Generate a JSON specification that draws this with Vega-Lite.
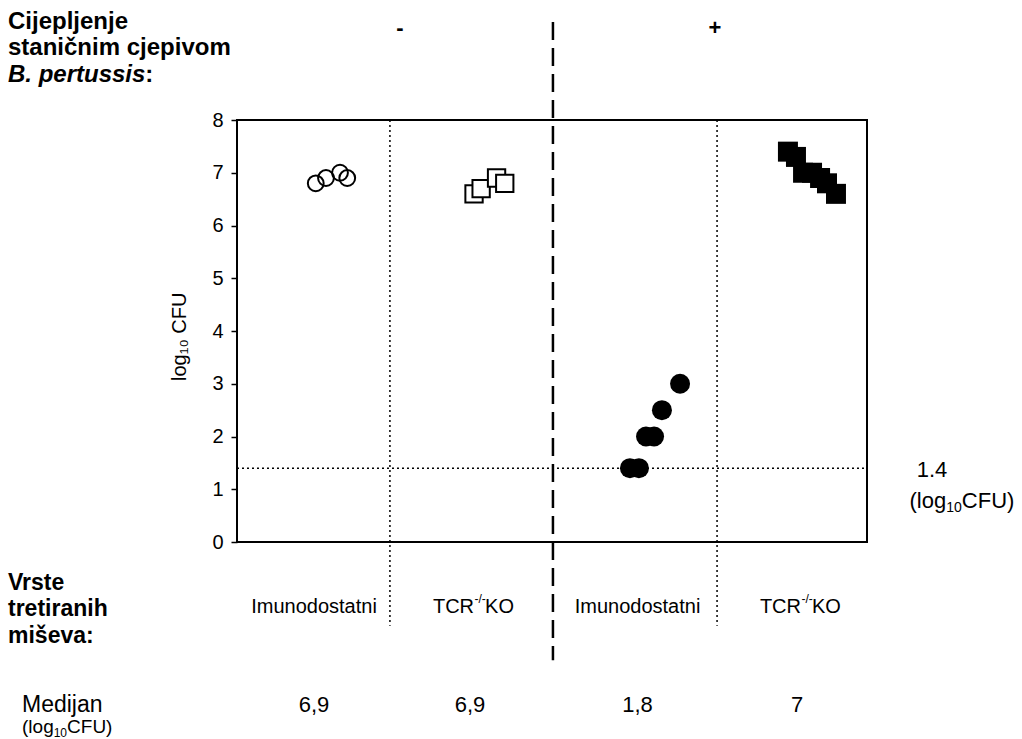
{
  "$schema": "https://vega.github.io/schema/vega-lite/v6.json",
  "width": 630,
  "height": 422,
  "autosize": {"type": "none"},
  "padding": {"left": 237, "top": 120, "right": 155, "bottom": 197},
  "background": "white",
  "config": {
    "view": {"stroke": "black", "strokeWidth": 2},
    "font": "Liberation Sans",
    "text": {"font": "Liberation Sans", "color": "black"}
  },
  "encoding": {
    "x": {"field": "x", "type": "quantitative", "scale": {"domain": [0, 4], "nice": false}, "axis": null},
    "y": {"field": "y", "type": "quantitative", "scale": {"domain": [0, 8], "nice": false},
      "axis": {"title": null, "values": [0, 1, 2, 3, 4, 5, 6, 7, 8], "labelOverlap": false, "domain": false, "grid": false, "tickColor": "black", "tickSize": 6, "tickWidth": 1.5, "labelFontSize": 20, "labelColor": "black", "labelPadding": 8, "labelFont": "Liberation Sans"}}
  },
  "layer": [
    {
      "data": {"values": [{"x": 0.971, "y": 8, "y2": -1.59}, {"x": 3.048, "y": 8, "y2": -1.59}]},
      "mark": {"type": "rule", "color": "black", "strokeWidth": 1.5, "strokeDash": [2, 3]},
      "encoding": {"y2": {"field": "y2"}}
    },
    {
      "data": {"values": [{"y": 1.4, "x": 0, "x2": 4}]},
      "mark": {"type": "rule", "color": "black", "strokeWidth": 1.5, "strokeDash": [2, 3]},
      "encoding": {"x2": {"field": "x2"}}
    },
    {
      "data": {"values": [{"x": 2.006, "y": 9.86, "y2": -2.24}]},
      "mark": {"type": "rule", "color": "black", "strokeWidth": 2.5, "strokeDash": [18, 8]},
      "encoding": {"y2": {"field": "y2"}}
    },
    {
      "data": {"values": [{"x": 0.50, "y": 6.8}, {"x": 0.565, "y": 6.9}, {"x": 0.654, "y": 7.0}, {"x": 0.70, "y": 6.9}]},
      "mark": {"type": "point", "shape": "circle", "filled": false, "stroke": "black", "strokeWidth": 2, "size": 250, "opacity": 1}
    },
    {
      "data": {"values": [{"x": 1.505, "y": 6.6}, {"x": 1.55, "y": 6.7}, {"x": 1.648, "y": 6.9}, {"x": 1.70, "y": 6.8}]},
      "mark": {"type": "point", "shape": "square", "filled": true, "fill": "white", "stroke": "black", "strokeWidth": 2, "size": 300, "opacity": 1}
    },
    {
      "data": {"values": [{"x": 2.495, "y": 1.4}, {"x": 2.552, "y": 1.4}, {"x": 2.597, "y": 2.0}, {"x": 2.648, "y": 2.0}, {"x": 2.698, "y": 2.5}, {"x": 2.813, "y": 3.0}]},
      "mark": {"type": "point", "shape": "circle", "filled": true, "fill": "black", "size": 400, "opacity": 1}
    },
    {
      "data": {"values": [{"x": 3.498, "y": 7.4}, {"x": 3.549, "y": 7.3}, {"x": 3.594, "y": 7.0}, {"x": 3.651, "y": 7.0}, {"x": 3.702, "y": 6.9}, {"x": 3.746, "y": 6.8}, {"x": 3.803, "y": 6.6}]},
      "mark": {"type": "point", "shape": "square", "filled": true, "fill": "black", "size": 400, "opacity": 1}
    },
    {
      "data": {"values": [
        {"t": "Cijepljenje", "x": -1.454, "y": 9.725},
        {"t": "staničnim cjepivom", "x": -1.454, "y": 9.223},
        {"t": ":", "x": -0.582, "y": 8.72}
      ]},
      "mark": {"type": "text", "fontSize": 24, "fontWeight": "bold", "align": "left", "baseline": "alphabetic"},
      "encoding": {"text": {"field": "t"}}
    },
    {
      "data": {"values": [{"t": "B. pertussis", "x": -1.454, "y": 8.72}]},
      "mark": {"type": "text", "fontSize": 24, "fontWeight": "bold", "fontStyle": "italic", "align": "left", "baseline": "alphabetic"},
      "encoding": {"text": {"field": "t"}}
    },
    {
      "data": {"values": [
        {"t": "Vrste", "x": -1.454, "y": -0.91},
        {"t": "tretiranih", "x": -1.454, "y": -1.412},
        {"t": "miševa:", "x": -1.454, "y": -1.915}
      ]},
      "mark": {"type": "text", "fontSize": 23, "fontWeight": "bold", "align": "left", "baseline": "alphabetic"},
      "encoding": {"text": {"field": "t"}}
    },
    {
      "data": {"values": [{"t": "-", "x": 1.035, "y": 9.744}, {"t": "+", "x": 3.035, "y": 9.744}]},
      "mark": {"type": "text", "fontSize": 22, "fontWeight": "bold", "align": "center", "baseline": "middle"},
      "encoding": {"text": {"field": "t"}}
    },
    {
      "data": {"values": [
        {"t": "Imunodostatni", "x": 0.489, "y": -1.346},
        {"t": "Imunodostatni", "x": 2.543, "y": -1.346}
      ]},
      "mark": {"type": "text", "fontSize": 20, "align": "center", "baseline": "alphabetic"},
      "encoding": {"text": {"field": "t"}}
    },
    {
      "data": {"values": [{"t": "TCR", "x": 1.505, "y": -1.346}, {"t": "TCR", "x": 3.581, "y": -1.346}]},
      "mark": {"type": "text", "fontSize": 20, "align": "right", "baseline": "alphabetic"},
      "encoding": {"text": {"field": "t"}}
    },
    {
      "data": {"values": [{"t": "-/-", "x": 1.508, "y": -1.157}, {"t": "-/-", "x": 3.584, "y": -1.157}]},
      "mark": {"type": "text", "fontSize": 12, "align": "left", "baseline": "alphabetic"},
      "encoding": {"text": {"field": "t"}}
    },
    {
      "data": {"values": [{"t": "KO", "x": 1.575, "y": -1.346}, {"t": "KO", "x": 3.651, "y": -1.346}]},
      "mark": {"type": "text", "fontSize": 20, "align": "left", "baseline": "alphabetic"},
      "encoding": {"text": {"field": "t"}}
    },
    {
      "data": {"values": [
        {"t": "6,9", "x": 0.489, "y": -3.223},
        {"t": "6,9", "x": 1.479, "y": -3.223},
        {"t": "1,8", "x": 2.543, "y": -3.223},
        {"t": "7", "x": 3.556, "y": -3.223}
      ]},
      "mark": {"type": "text", "fontSize": 22, "align": "center", "baseline": "alphabetic"},
      "encoding": {"text": {"field": "t"}}
    },
    {
      "data": {"values": [{"t": "Medijan", "x": -1.365, "y": -3.223}]},
      "mark": {"type": "text", "fontSize": 23, "align": "left", "baseline": "alphabetic"},
      "encoding": {"text": {"field": "t"}}
    },
    {
      "data": {"values": [{"t": "(log", "x": -1.365, "y": -3.621}, {"t": "CFU)", "x": -1.079, "y": -3.621}]},
      "mark": {"type": "text", "fontSize": 19, "align": "left", "baseline": "alphabetic"},
      "encoding": {"text": {"field": "t"}}
    },
    {
      "data": {"values": [{"t": "10", "x": -1.164, "y": -3.697}]},
      "mark": {"type": "text", "fontSize": 12, "align": "left", "baseline": "alphabetic"},
      "encoding": {"text": {"field": "t"}}
    },
    {
      "data": {"values": [{"t": "1.4", "x": 4.413, "y": 1.23}]},
      "mark": {"type": "text", "fontSize": 22, "align": "center", "baseline": "alphabetic"},
      "encoding": {"text": {"field": "t"}}
    },
    {
      "data": {"values": [{"t": "(log", "x": 4.270, "y": 0.645}, {"t": "CFU)", "x": 4.602, "y": 0.645}]},
      "mark": {"type": "text", "fontSize": 22, "align": "left", "baseline": "alphabetic"},
      "encoding": {"text": {"field": "t"}}
    },
    {
      "data": {"values": [{"t": "10", "x": 4.503, "y": 0.569}]},
      "mark": {"type": "text", "fontSize": 14, "align": "left", "baseline": "alphabetic"},
      "encoding": {"text": {"field": "t"}}
    },
    {
      "data": {"values": [{"t": "log₁₀ CFU", "x": -0.36, "y": 3.89}]},
      "mark": {"type": "text", "fontSize": 20, "angle": 270, "align": "center", "baseline": "middle"},
      "encoding": {"text": {"field": "t"}}
    }
  ]
}
